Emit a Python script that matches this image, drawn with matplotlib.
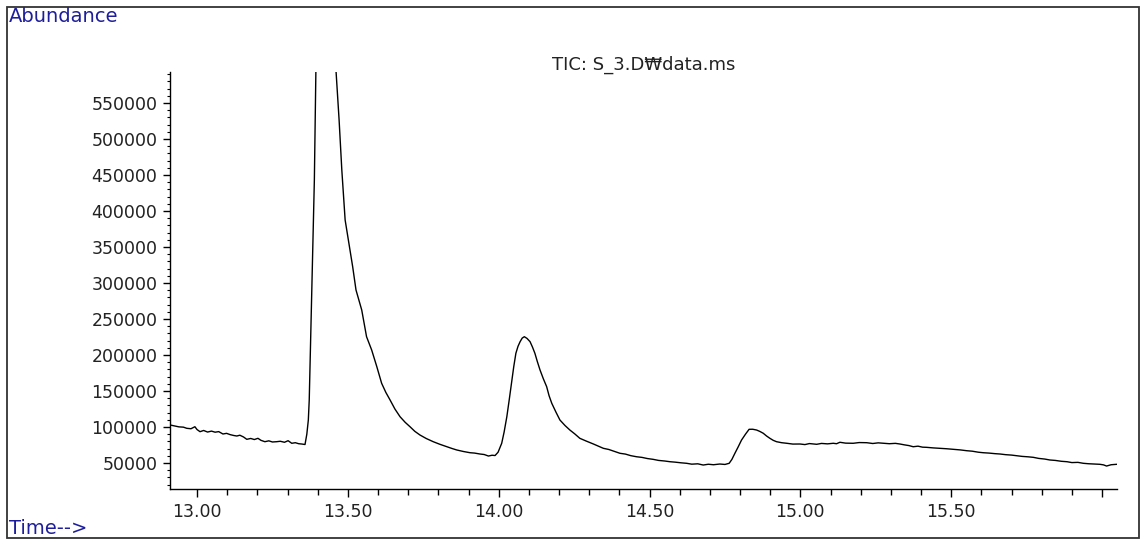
import matplotlib
matplotlib.use("Agg")
import matplotlib.pyplot as plt
from matplotlib.patches import Rectangle
from matplotlib.ticker import MultipleLocator, FuncFormatter

# retention time (min) and abundance
time_min = [
    12.911, 12.925, 12.940, 12.955, 12.966, 12.980, 12.993, 13.000, 13.010, 13.022,
    13.035, 13.048, 13.060, 13.072, 13.086, 13.098, 13.110, 13.122, 13.132, 13.142,
    13.154, 13.165, 13.178, 13.190, 13.202, 13.212, 13.225, 13.238, 13.250, 13.264,
    13.276, 13.290, 13.302, 13.314, 13.326, 13.337, 13.347, 13.358, 13.364, 13.369,
    13.372, 13.389, 13.394, 13.428,
    13.461, 13.471, 13.480, 13.491, 13.507, 13.516, 13.527, 13.546, 13.562, 13.579,
    13.596, 13.612, 13.626, 13.640, 13.656, 13.673, 13.690, 13.706, 13.722, 13.739,
    13.760, 13.783, 13.805, 13.828, 13.845, 13.861, 13.883, 13.905, 13.920, 13.938,
    13.952, 13.966, 13.978, 13.988,
    13.998, 14.010, 14.018, 14.027, 14.035, 14.043, 14.050, 14.057, 14.064, 14.071,
    14.078, 14.085, 14.094, 14.104, 14.112, 14.120, 14.128, 14.137, 14.148, 14.159,
    14.167, 14.176, 14.190, 14.203, 14.220, 14.236, 14.252, 14.269, 14.290, 14.314,
    14.330, 14.347, 14.365, 14.383, 14.402, 14.420, 14.438, 14.457, 14.475, 14.493,
    14.512, 14.530, 14.550, 14.568, 14.585, 14.604, 14.623, 14.640, 14.660, 14.678,
    14.695, 14.712, 14.733, 14.750, 14.764,
    14.773, 14.783, 14.794, 14.805, 14.818, 14.830, 14.842, 14.855, 14.866, 14.877,
    14.888, 14.899, 14.910, 14.921, 14.938, 14.955, 14.975, 14.999, 15.015, 15.030,
    15.054, 15.070, 15.090, 15.109, 15.120, 15.131, 15.150, 15.175, 15.195, 15.220,
    15.240, 15.258, 15.275, 15.295, 15.315, 15.330, 15.345, 15.360, 15.374, 15.390,
    15.405, 15.418, 15.440, 15.463, 15.485, 15.507, 15.530, 15.551, 15.570, 15.590,
    15.606, 15.625, 15.645, 15.662, 15.680, 15.700, 15.717, 15.735, 15.755, 15.772,
    15.790, 15.810, 15.827, 15.845, 15.865, 15.884, 15.900, 15.920, 15.938, 15.955,
    15.975, 15.993, 16.005, 16.015, 16.030, 16.048,
]
abundance = [
    102800, 101500, 100200, 99800, 98200, 97600, 100400, 96500, 93500, 95200,
    93000, 94300, 92800, 93600, 90300, 91200, 89400, 88200, 87500, 88600,
    86200, 82900, 84100, 82600, 84300, 81500, 79600, 80800, 79200, 79600,
    80200, 78800, 81000, 77400, 78200, 76800, 76400, 75700, 90000, 109700,
    137500, 443100, 593100, 1040000,
    593100, 526400, 456900, 387500, 345800, 322600, 290300, 262500, 225400, 206900,
    183800, 160700, 148000, 137500, 125000, 114300, 106500, 100400, 94000, 88900,
    84000, 79600, 76000, 72600, 70200, 68100, 66000, 64300, 63800, 62500,
    61800, 59700, 60800, 60400,
    65000, 77400, 93000, 114300, 138000, 162900, 184000, 202400, 212000, 218500,
    223500, 225400, 223000, 218500, 211000, 202400, 191000, 179200, 167000, 156000,
    143500, 132900, 120500, 109700, 102000, 95800, 90500, 84300, 80500, 76400,
    73500, 70400, 68800, 66200, 63500, 62400, 60200, 58700, 57800, 56200,
    55100, 53600, 52800, 51800, 51200, 50300, 49600, 48400, 48900, 47200,
    48300, 47600, 48600, 48000, 49600,
    55000, 63500, 72500, 81900, 90000, 96800, 96900, 95800, 93800, 91300,
    87500, 84300, 81500, 79600, 78200, 77400, 76300, 76400, 75600, 77000,
    76000, 77200, 76600, 77400, 76800, 78800, 77600, 77400, 78400, 78200,
    77100, 78000, 77400, 76800, 77300, 76400, 75200, 74200, 72600, 73400,
    72000, 71800, 71000, 70400, 69800, 69000, 68200, 67100, 66400, 65000,
    64300, 63800, 63000, 62500, 61600, 61000, 60100, 59200, 58600, 57900,
    56400, 55500, 54200, 53600, 52400, 51800, 50600, 50900, 49600, 49000,
    48600, 48200, 47400, 45800, 47600, 48200,
]

x_major = [13.0, 13.5, 14.0, 14.5, 15.0, 15.5, 16.0]
y_major = [50000, 100000, 150000, 200000, 250000, 300000,
           350000, 400000, 450000, 500000, 550000]

title_text = "TIC: S_3.D\u20a9data.ms"
blue = "#1e1e9c"

plt.rcParams['font.family'] = ['DejaVu Sans']

fig = plt.figure(figsize=(11.41, 5.41), dpi=100)
ax = fig.add_axes([0.149, 0.0961, 0.830, 0.7708])

ax.plot(time_min, abundance, color="black", lw=1.0)

ax.set_xlim(12.9105, 16.0497)
ax.set_ylim(13900, 593000)

ax.set_xticks(x_major)
ax.xaxis.set_minor_locator(MultipleLocator(0.1))
ax.xaxis.set_major_formatter(
    FuncFormatter(lambda v, p: "" if v > 15.9 else f"{v:.2f}"))
ax.set_yticks(y_major)
ax.yaxis.set_minor_locator(MultipleLocator(10000))
ax.yaxis.set_major_formatter(FuncFormatter(lambda v, p: f"{int(v)}"))

for s in ["top", "right"]:
    ax.spines[s].set_visible(False)
for s in ["left", "bottom"]:
    ax.spines[s].set_linewidth(1.0)

ax.tick_params(axis="x", which="major", length=6, width=1, direction="out",
               labelsize=12.5, pad=4, labelcolor="#222222")
ax.tick_params(axis="x", which="minor", length=4, width=1, direction="out")
ax.tick_params(axis="y", which="major", length=5, width=1, direction="out",
               labelsize=12.5, pad=4, labelcolor="#222222")
ax.tick_params(axis="y", which="minor", length=2, width=0.8, direction="out")

ax.text(0.5, 1.0 - (65 - 72) / 417.0, title_text, transform=ax.transAxes,
        ha="center", va="center", fontsize=13, color="#222222")

# outer frame and corner labels
fig.patches.append(Rectangle((0.0065, 0.0055), 0.9915, 0.981,
                             transform=fig.transFigure, fill=False,
                             edgecolor="#333333", lw=1.3))
fig.text(0.0075, 0.970, "Abundance", color=blue, fontsize=14,
         ha="left", va="center")
fig.text(0.0075, 0.023, "Time-->", color=blue, fontsize=14,
         ha="left", va="center")

fig.savefig("out.png", dpi=100)
